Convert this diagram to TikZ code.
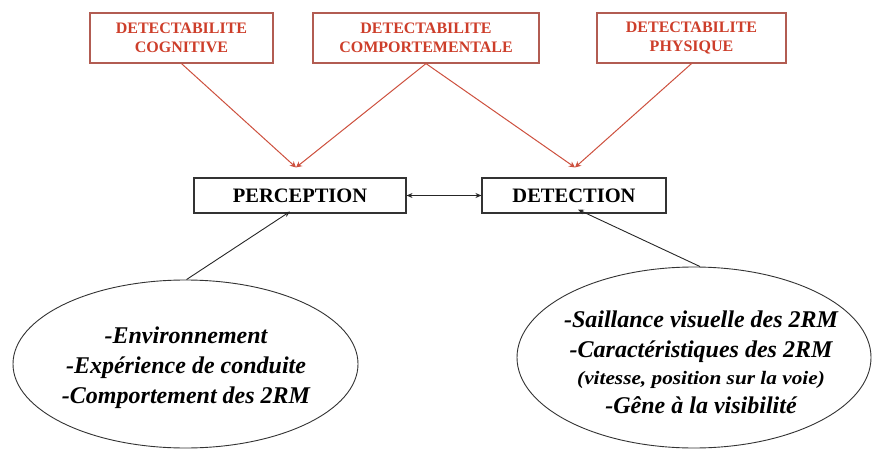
\documentclass[tikz,border=0pt]{standalone}
\usepackage{fontspec}
\usepackage{graphicx}
\setmainfont{Liberation Serif}
\usetikzlibrary{arrows.meta,shapes.geometric}
\definecolor{redtext}{RGB}{205,62,42}
\definecolor{redbox}{RGB}{178,92,82}
\definecolor{redarrow}{RGB}{205,80,62}
\tikzset{
  topbox/.style={draw=redbox,line width=1.2pt,text=redtext,font=\bfseries\fontsize{16}{19.5}\selectfont,align=center,inner sep=0pt},
  midbox/.style={draw=black!80,line width=1.1pt,font=\bfseries\fontsize{20.5}{22}\selectfont,inner sep=0pt},
  oval/.style={ellipse,draw=black!80,line width=0.9pt,inner sep=0pt},
  ovaltext/.style={align=center,inner sep=0pt,font=\bfseries\itshape\fontsize{24}{30}\selectfont},
  redarr/.style={draw=redarrow,line width=1pt,-{Stealth[length=6pt,width=6pt]}},
  blackarr/.style={draw=black!85,line width=0.9pt,-{Stealth[length=6pt,width=5pt]}},
  dblarr/.style={draw=black!85,line width=0.9pt,{Stealth[length=6pt,width=5pt]}-{Stealth[length=6pt,width=5pt]}}
}
\begin{document}
\begin{tikzpicture}[x=1pt,y=-1pt]
\useasboundingbox (0,0) rectangle (874,449);
\node[topbox,minimum width=183pt,minimum height=50pt] (cog) at (181.5,38) {DETECTABILITE\\COGNITIVE};
\node[topbox,minimum width=226pt,minimum height=50pt] (comp) at (426,38) {DETECTABILITE\\COMPORTEMENTALE};
\node[topbox,minimum width=189pt,minimum height=50pt] (phys) at (691.5,38) {DETECTABILITE\\PHYSIQUE};
\node[midbox,minimum width=212pt,minimum height=35pt] (perc) at (300,195.5) {PERCEPTION};
\node[midbox,minimum width=184pt,minimum height=35pt] (det) at (574,195.5) {DETECTION};
\node[oval,minimum width=345pt,minimum height=168pt] (elL) at (185.5,364) {};
\node[ovaltext] (tL) at (186,368) {-Environnement\\-Expérience de conduite\\-Comportement des 2RM};
\node[oval,minimum width=354pt,minimum height=181pt] (elR) at (694,357.5) {};
\node[ovaltext] (tR) at (701,362) {-Saillance visuelle des 2RM\\-Caractéristiques des 2RM\\[-3pt]{\fontsize{19}{20}\selectfont\scalebox{1.12}[1]{(vitesse, position sur la voie)}}\\[-1pt]-Gêne à la visibilité};
\coordinate (pin) at ([xshift=-4pt,yshift=10pt]perc.north);
\coordinate (din) at ([xshift=1pt,yshift=10pt]det.north);
\draw[redarr] (cog.south) -- (pin);
\draw[redarr] (comp.south) -- (pin);
\draw[redarr] (comp.south) -- (din);
\draw[redarr] (phys.south) -- (din);
\draw[blackarr] ([xshift=1pt]elL.north) -- ([xshift=-10pt,yshift=2pt]perc.south);
\draw[blackarr] ([xshift=6pt]elR.north) -- ([xshift=4pt,yshift=4pt]det.south);
\draw[dblarr] (perc.east) -- (det.west);
\end{tikzpicture}
\end{document}
